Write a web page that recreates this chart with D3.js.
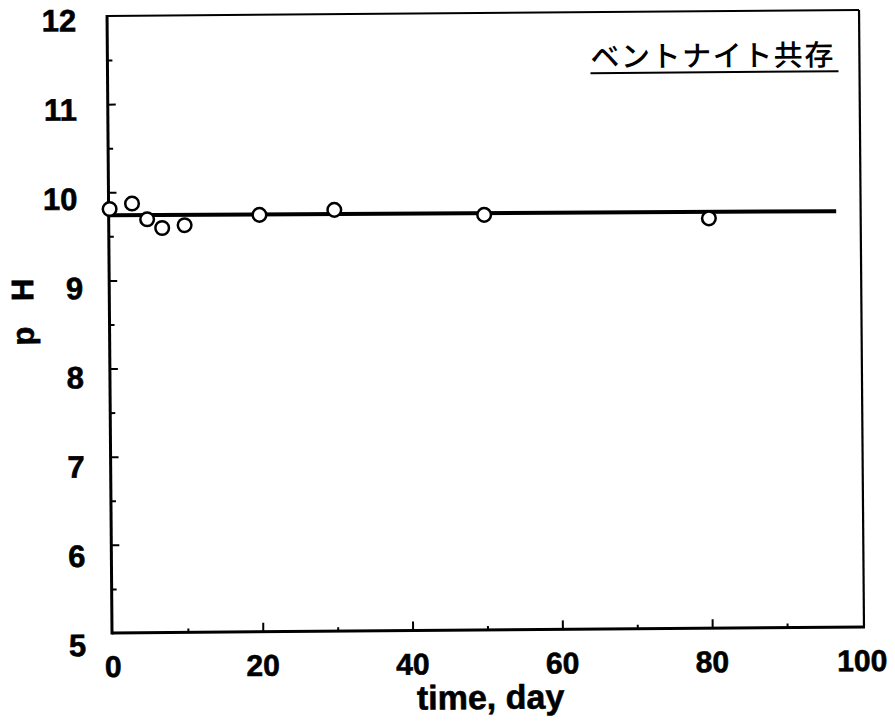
<!DOCTYPE html>
<html>
<head>
<meta charset="utf-8">
<script src="https://cdn.jsdelivr.net/npm/d3@7/dist/d3.min.js"></script>
<style>
  html, body { margin: 0; padding: 0; background: #fff; }
  svg { display: block; }
  .num { font-family: "Liberation Sans", Arial, sans-serif; font-weight: bold; fill: #000; stroke: #000; stroke-width: 0.6px; }
  .jp { font-family: "Noto Sans CJK JP", sans-serif; font-weight: 500; fill: #000; }
</style>
</head>
<body>
<svg id="chart" width="895" height="722"></svg>
<script>
// Measured pH over time (bentonite present)
const days = [0, 3, 5, 7, 10, 20, 30, 50, 80];
const phValues = [9.81, 9.87, 9.69, 9.59, 9.62, 9.73, 9.78, 9.71, 9.65];

// Fitted trend line end points
const fitDays = [0, 97];
const fitPh = [9.74, 9.72];

// Axis ticks and labels
const xMajorTicks = [0, 20, 40, 60, 80, 100];
const xMinorTicks = [10, 30, 50, 70, 90];
const yMajorTicks = [5, 6, 7, 8, 9, 10, 11, 12];
const yMinorTicks = [5.5, 6.5, 7.5, 8.5, 9.5, 10.5, 11.5];
const xTitle = "time, day";
const yTitle = "p H";
const noteText = "ベントナイト共存";

const svg = d3.select("#chart");
const W = 895, H = 722;
svg.append("rect").attr("width", W).attr("height", H).attr("fill", "#fff");

// Whole figure sits with a slight tilt
const g = svg.append("g").attr("transform", "rotate(-0.46, 112, 633)");

const x = d3.scaleLinear().domain([0, 100]).range([113, 862]);
const y = d3.scaleLinear().domain([5, 12]).range([633, 16]);
// tick label centres run on a slightly longer span than the ticks
const yLab = d3.scaleLinear().domain([5, 12]).range([645, 20]);

// Frame
const x0 = x(0) - 1, x1 = x(100) + 2, yb = y(5), yt = y(12);
g.append("line").attr("x1", x0).attr("x2", x1).attr("y1", yt).attr("y2", yt)
  .attr("stroke", "#000").attr("stroke-width", 2);
g.append("line").attr("x1", x1).attr("x2", x1).attr("y1", yt).attr("y2", yb)
  .attr("stroke", "#000").attr("stroke-width", 2.2);
g.append("line").attr("x1", x0).attr("x2", x1 + 1).attr("y1", yb).attr("y2", yb)
  .attr("stroke", "#000").attr("stroke-width", 3);
g.append("line").attr("x1", x0).attr("x2", x0).attr("y1", yt - 1).attr("y2", yb + 1.5)
  .attr("stroke", "#000").attr("stroke-width", 3);

// Inward ticks via d3 axes
function tickAxis(axis, transform, width) {
  const a = g.append("g").attr("transform", transform).call(axis);
  a.select(".domain").remove();
  a.selectAll(".tick line").attr("stroke", "#000").attr("stroke-width", width);
  a.selectAll(".tick text").remove();
  return a;
}
tickAxis(d3.axisBottom(x).tickValues(xMajorTicks.filter(d => d > 0 && d < 100)).tickSize(-9).tickFormat(""),
  `translate(0,${yb})`, 2);
tickAxis(d3.axisBottom(x).tickValues(xMinorTicks).tickSize(-4).tickFormat(""),
  `translate(0,${yb})`, 2);
tickAxis(d3.axisLeft(y).tickValues(yMajorTicks.filter(d => d > 5 && d < 12)).tickSize(-8).tickFormat(""),
  `translate(${x0},0)`, 2);
tickAxis(d3.axisLeft(y).tickValues(yMinorTicks).tickSize(-5).tickFormat(""),
  `translate(${x0},0)`, 2);

// Tick labels
g.selectAll("text.xlab").data(xMajorTicks).join("text")
  .attr("class", "num xlab")
  .attr("x", d => x(d))
  .attr("y", 677)
  .attr("text-anchor", "middle")
  .attr("font-size", 30)
  .text(d => d);

g.selectAll("text.ylab").data(yMajorTicks).join("text")
  .attr("class", "num ylab")
  .attr("x", d => d >= 10 ? 81 : 86)
  .attr("y", d => yLab(d) + 11)
  .attr("text-anchor", "end")
  .attr("font-size", 31)
  .text(d => d);

// Axis titles
g.append("text").attr("class", "num")
  .attr("x", 490).attr("y", 712)
  .attr("text-anchor", "middle")
  .attr("font-size", 34)
  .text(xTitle);

g.append("text").attr("class", "num")
  .attr("transform", "translate(36,345) rotate(-90)")
  .attr("text-anchor", "start")
  .attr("font-size", 31)
  .attr("letter-spacing", 8.5)
  .attr("xml:space", "preserve")
  .text(yTitle);

// Fitted line
const line = d3.line().x(d => x(d[0])).y(d => y(d[1]));
g.append("path")
  .datum(fitDays.map((d, i) => [d, fitPh[i]]))
  .attr("d", line)
  .attr("fill", "none")
  .attr("stroke", "#000")
  .attr("stroke-width", 4);

// Data points
g.selectAll("circle.pt").data(days.map((d, i) => [d, phValues[i]])).join("circle")
  .attr("class", "pt")
  .attr("cx", d => x(d[0]))
  .attr("cy", d => y(d[1]))
  .attr("r", 6.8)
  .attr("fill", "#fff")
  .attr("stroke", "#000")
  .attr("stroke-width", 2.5);

// Condition note, underlined
g.append("text").attr("class", "jp")
  .attr("x", 595).attr("y", 71)
  .attr("font-size", 29)
  .attr("textLength", 243)
  .attr("lengthAdjust", "spacing")
  .text(noteText);
g.append("line")
  .attr("x1", 595).attr("x2", 843).attr("y1", 77).attr("y2", 77)
  .attr("stroke", "#000").attr("stroke-width", 2);
</script>
</body>
</html>
